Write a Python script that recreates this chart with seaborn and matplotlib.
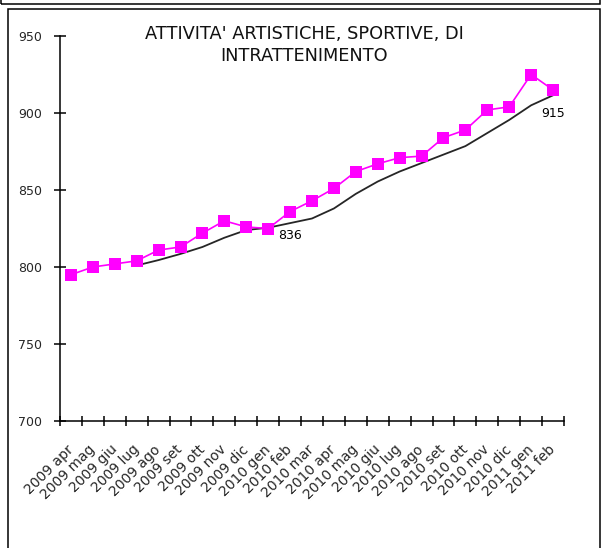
import numpy as np
import pandas as pd
import matplotlib
matplotlib.use("Agg")
import matplotlib.pyplot as plt
import seaborn as sns
from matplotlib.patches import Rectangle

# monthly series
months = [
    "2009 apr", "2009 mag", "2009 giu", "2009 lug", "2009 ago", "2009 set",
    "2009 ott", "2009 nov", "2009 dic", "2010 gen", "2010 feb", "2010 mar",
    "2010 apr", "2010 mag", "2010 giu", "2010 lug", "2010 ago", "2010 set",
    "2010 ott", "2010 nov", "2010 dic", "2011 gen", "2011 feb",
]
values = [795, 800, 802, 804, 811, 813, 822, 830, 826, 825, 836, 843,
          851, 862, 867, 871, 872, 884, 889, 902, 904, 925, 915]
# moving-average trend, starts at 2009 lug
trend = [np.nan, np.nan, np.nan, 801, 804.5, 808.5, 813, 819, 824, 825.5,
         828.5, 831.5, 838, 847.5, 855.5, 862, 867.5, 873, 878.5, 887,
         895.5, 905, 911.5]
yticks = [700, 750, 800, 850, 900, 950]
labelled = {"2010 feb": "836", "2011 feb": "915"}
title = "ATTIVITA' ARTISTICHE, SPORTIVE, DI\nINTRATTENIMENTO"

sns.set_style("ticks")
plt.rcParams["font.family"] = ["DejaVu Sans"]

df = pd.DataFrame({
    "pos": np.arange(len(months)),
    "mese": months,
    "valore": values,
    "trend": trend,
})

W, H = 605, 548
fig = plt.figure(figsize=(W / 100, H / 100), dpi=100)
ax = fig.add_axes([60 / W, 1 - 421 / H, 504 / W, 385 / H])

# trend line under the data line
sns.lineplot(data=df.dropna(), x="pos", y="trend", color="#262626",
             linewidth=1.3, ax=ax)
sns.lineplot(data=df, x="pos", y="valore", color="#ff00ff", linewidth=1.2,
             marker="s", markersize=8, markeredgewidth=0, ax=ax)

for mese, txt in labelled.items():
    i = months.index(mese)
    ax.annotate(txt, (i, values[i]), xytext=(0, -17), textcoords="offset points",
                ha="center", va="center", fontsize=9, color="black")

ax.set_xlim(-0.5, len(months) - 0.5)
ax.set_ylim(700, 950)
ax.set_yticks(yticks)
ax.set_xticks(df["pos"])
ax.set_xticklabels(months, rotation=45, ha="right", va="center",
                   rotation_mode="anchor", fontsize=10)
ax.set_xticks(np.arange(-0.5, len(months)), minor=True)
ax.tick_params(axis="x", which="major", length=0, pad=19)
ax.tick_params(axis="x", which="minor", direction="inout", length=7.5,
               width=1.1, color="black")
ax.tick_params(axis="y", direction="inout", length=9, width=1.1, pad=8.5,
               labelsize=9, color="black")
ax.set_xlabel("")
ax.set_ylabel("")
sns.despine(ax=ax)
for s in ["left", "bottom"]:
    ax.spines[s].set_color("black")
    ax.spines[s].set_linewidth(1.1)

fig.text(304 / W, 1 - 45 / H, title, ha="center", va="center",
         fontsize=12.8, linespacing=1.25, color="#111111")

# chart frames
fig.add_artist(Rectangle((8 / W, -0.02), 592 / W, 1 - 9 / H + 0.02,
                         transform=fig.transFigure, fill=False,
                         edgecolor="black", linewidth=1.1))
fig.add_artist(Rectangle((0.5 / W, 1 - 3.5 / H), 599.5 / W, 0.05,
                         transform=fig.transFigure, fill=False,
                         edgecolor="black", linewidth=1.1))

fig.savefig("out.png", dpi=100)
